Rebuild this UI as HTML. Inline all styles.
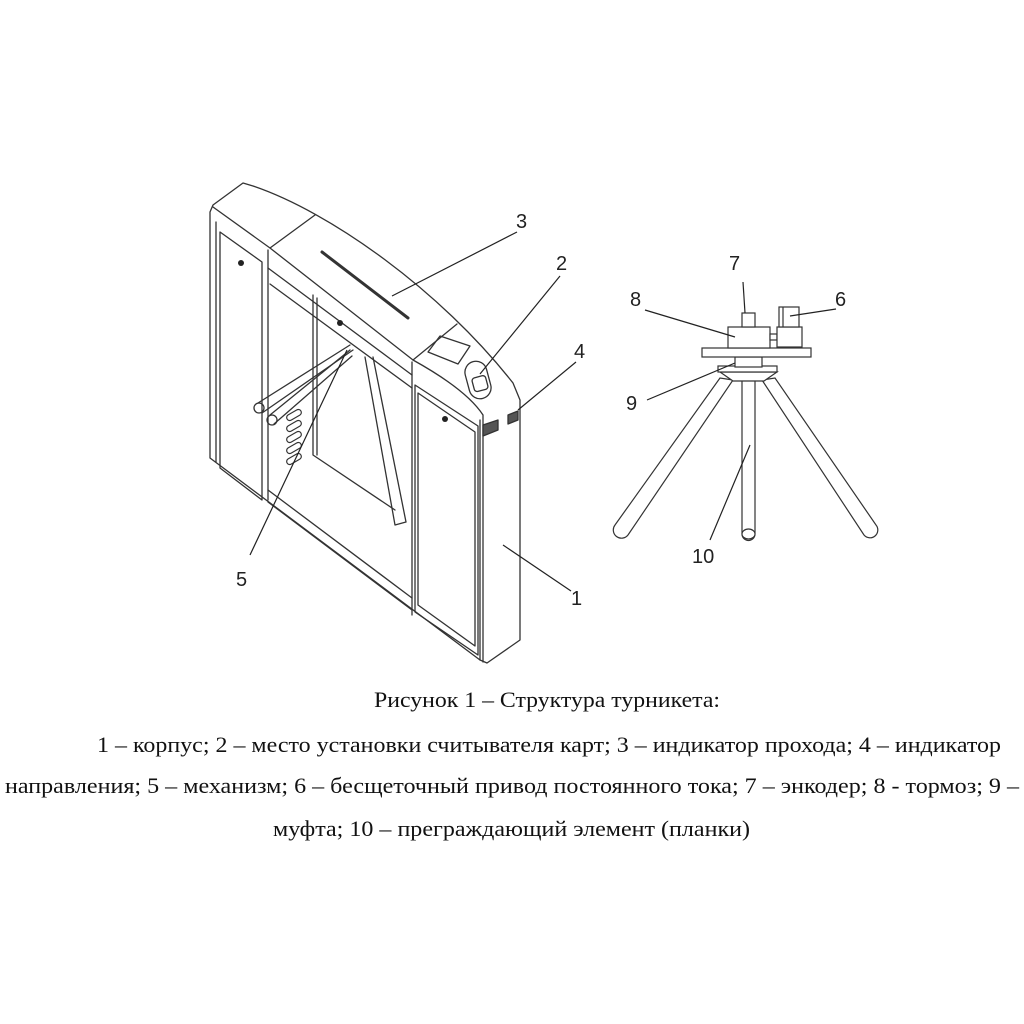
<!DOCTYPE html>
<html><head><meta charset="utf-8"><style>
html,body{margin:0;padding:0;background:#fff;}
svg{display:block}
</style></head><body>
<svg width="1024" height="1024" viewBox="0 0 1024 1024" xmlns="http://www.w3.org/2000/svg">
<rect width="1024" height="1024" fill="#fff"/>
<g fill="none" stroke="#333" stroke-width="1.3" stroke-linejoin="round" stroke-linecap="round">
<path d="M210,212 L213,205 L243,183 L253,186 C330,212 440,290 513,383 L520,400 L520,640 L487,663 L480,660 L210,458 Z"/>
<path d="M213,207 L270,248 L413,360 C440,375 470,395 483,415 L483,662"/>
<path d="M270,248 L315,215"/>
<path d="M413,360 L457,324"/>
<path d="M268,250 L268,500"/>
<path d="M268,268 L412,375"/>
<path d="M270,284 L412,388"/>
<path d="M412,362 L412,615"/>
<path d="M480,420 L480,660"/>
<path d="M216,222 L216,462"/>
<path d="M220,232 L262,262 L262,500 L220,468 Z"/>
<path d="M313,295 L313,455 L395,510"/>
<path d="M317,298 L317,455"/>
<path d="M268,490 L412,598"/>
<path d="M268,502 L412,610"/>
<path d="M418,393 L475,432 L475,646 L418,605 Z"/>
<path d="M415,385 L478,426 L478,655 L415,612 Z"/>
<path d="M322,252 L408,318" stroke-width="3"/>
<path d="M428,352 L440,336 L470,346 L458,364 Z"/>
<rect x="467" y="361" width="22" height="38" rx="11" transform="rotate(-15 478 380)"/>
<rect x="472" y="377" width="14" height="14" rx="3" transform="rotate(-15 478 380)"/>
<path d="M483,425 L498,420 L498,430 L483,436 Z" fill="#555"/>
<path d="M508,415 L518,411 L518,420 L508,424 Z" fill="#555"/>
<path d="M350,345 L258,403 M353,350 L262,413"/>
<circle cx="259" cy="408" r="5"/>
<path d="M350,350 L270,415 M352,356 L274,424"/>
<circle cx="272" cy="420" r="5"/>
<path d="M365,357 L395,525 M373,357 L406,522 M395,525 L406,522"/>
<g stroke-width="1.2">
<rect x="286" y="412" width="16" height="6" rx="3" transform="rotate(-30 294 415)"/>
<rect x="286" y="423" width="16" height="6" rx="3" transform="rotate(-30 294 426)"/>
<rect x="286" y="434" width="16" height="6" rx="3" transform="rotate(-30 294 437)"/>
<rect x="286" y="445" width="16" height="6" rx="3" transform="rotate(-30 294 448)"/>
<rect x="286" y="456" width="16" height="6" rx="3" transform="rotate(-30 294 459)"/>
</g>
</g>
<g fill="#222"><circle cx="241" cy="263" r="3"/><circle cx="340" cy="323" r="3"/><circle cx="445" cy="419" r="3"/></g>
<g stroke="#222" stroke-width="1.2">
<line x1="517" y1="232" x2="392" y2="296"/>
<line x1="560" y1="276" x2="480" y2="374"/>
<line x1="576" y1="362" x2="518" y2="410"/>
<line x1="250" y1="555" x2="347" y2="350"/>
<line x1="571" y1="591" x2="503" y2="545"/>
</g>
<g fill="#fff" stroke="#333" stroke-width="1.2">
<path d="M720,378 L615,525 A7,7 0 0 0 628,535 L733,380 Z"/>
<path d="M762,380 L864,535 A7,7 0 0 0 876,525 L775,378 Z"/>
<path d="M742,378 L742,534 A6.5,6.5 0 0 0 755,534 L755,378 Z"/>
<ellipse cx="748.5" cy="534" rx="6.5" ry="5"/>
<path d="M720,372 L777,372 L764,381 L733,381 Z"/>
<rect x="718" y="366" width="59" height="6"/>
<rect x="735" y="357" width="27" height="10"/>
<rect x="702" y="348" width="109" height="9"/>
<rect x="728" y="327" width="42" height="21"/>
<rect x="742" y="313" width="13" height="14"/>
<rect x="770" y="334" width="7" height="6"/>
<rect x="777" y="327" width="25" height="20"/>
<rect x="779" y="307" width="20" height="20"/>
<line x1="783" y1="307" x2="783" y2="327"/>
</g>
<g stroke="#222" stroke-width="1.2">
<line x1="645" y1="310" x2="735" y2="337"/>
<line x1="743" y1="282" x2="745" y2="313"/>
<line x1="836" y1="309" x2="790" y2="316"/>
<line x1="647" y1="400" x2="735" y2="363"/>
<line x1="710" y1="540" x2="750" y2="445"/>
</g>
<g font-family="Liberation Sans, sans-serif" font-size="20" fill="#222">
<text x="516" y="228">3</text>
<text x="556" y="270">2</text>
<text x="574" y="358">4</text>
<text x="236" y="586">5</text>
<text x="571" y="605">1</text>
<text x="729" y="270">7</text>
<text x="630" y="306">8</text>
<text x="835" y="306">6</text>
<text x="626" y="410">9</text>
<text x="692" y="563">10</text>
</g>
<g font-family="Liberation Serif, serif" font-size="22" fill="#111">
<text x="374" y="707" textLength="346" lengthAdjust="spacingAndGlyphs">Рисунок 1 – Структура турникета:</text>
<text x="97" y="752" textLength="904" lengthAdjust="spacingAndGlyphs">1 – корпус; 2 – место установки считывателя карт; 3 – индикатор прохода; 4 – индикатор</text>
<text x="5" y="793" textLength="1014" lengthAdjust="spacingAndGlyphs">направления; 5 – механизм; 6 – бесщеточный привод постоянного тока; 7 – энкодер; 8 -  тормоз; 9 –</text>
<text x="273" y="836" textLength="477" lengthAdjust="spacingAndGlyphs">муфта; 10 – преграждающий элемент (планки)</text>
</g>
</svg>
</body></html>
